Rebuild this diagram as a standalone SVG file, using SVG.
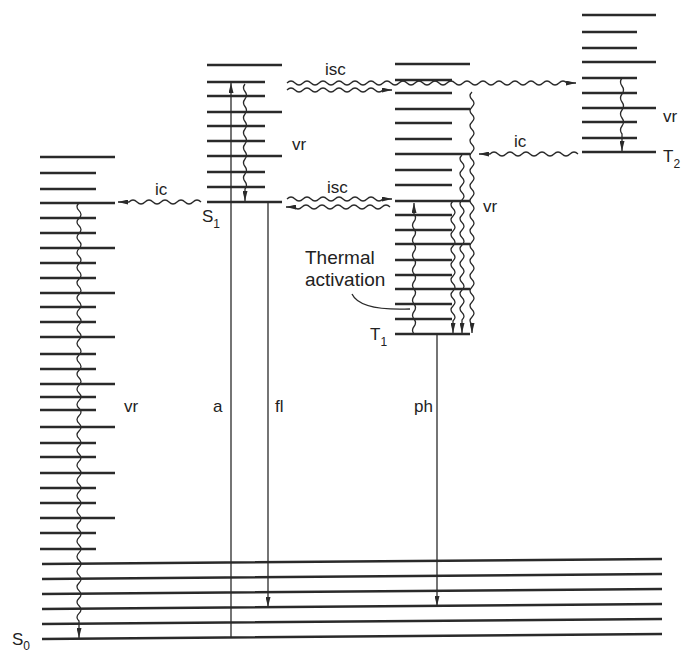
<svg xmlns="http://www.w3.org/2000/svg" width="682" height="654" viewBox="0 0 682 654">
<defs>
<style>
.lvl{stroke:#2a2a2a;stroke-width:2.4;fill:none}
.ar{stroke:#2a2a2a;stroke-width:1.3;fill:none;marker-end:url(#ah)}
.wv{stroke:#2a2a2a;stroke-width:1.3;fill:none}
.t{font-family:"Liberation Sans",Arial,Helvetica,sans-serif;font-size:17px;fill:#222}
.big{font-size:19px}
.sub{font-size:12px}
</style>
<marker id="ah" viewBox="0 0 10 5" refX="10" refY="2.5" markerWidth="10" markerHeight="5" markerUnits="userSpaceOnUse" orient="auto"><path d="M0,0 L10,2.5 L0,5 z" fill="#2a2a2a"/></marker>
</defs>
<rect width="682" height="654" fill="#fff"/>

<g id="S0">
<path class="lvl" d="M40,157H115M40,203H115M40,248H115M40,293H115M40,337H115M40,384H115M40,427H115M40,473H115M40,518H115
M40,173H96M40,189H96M40,218H96M40,233H96M40,263H96M40,278H96M40,307H96M40,322H96M40,354H96M40,369H96M40,397H96M40,410H96M40,443H96M40,457H96M40,488H96M40,503H96M40,533H96M40,549H96
M42,564L662,559M42,579L662,574M42,594L662,589M42,609L662,604M42,624L662,619M42,639L662,634"/>
<text class="t" x="12" y="645">S<tspan class="sub" dy="5">0</tspan></text>
</g>

<g id="S1">
<path class="lvl" d="M207,65H282M207,112H282M207,156H282M207,202H282M207,82H265M207,96H265M207,126H265M207,141H265M207,172H265M207,187H265"/>
<text class="t" x="202" y="222">S<tspan class="sub" dy="6">1</tspan></text>
</g>

<g id="T1">
<path class="lvl" d="M395,64H470M395,109H470M395,154H470M395,201H470M395,244H470M395,289H470M395,334H470
M395,80H452M395,93H452M395,123H452M395,139H452M395,170H452M395,185H452M395,215H452M395,230H452M395,260H452M395,275H452M395,304H452M395,319H452"/>
<text class="t" x="370" y="340">T<tspan class="sub" dy="6">1</tspan></text>
</g>

<g id="T2">
<path class="lvl" d="M582,15H656M582,62H656M582,108H656M582,152H656M582,32H637M582,48H637M582,78H637M582,93H637M582,122H637M582,138H637"/>
<text class="t" x="663" y="162">T<tspan class="sub" dy="6">2</tspan></text>
</g>

<g id="connectors">
<path class="ar" d="M231,638L231,83"/>
<path class="ar" d="M268,202L268,607"/>
<path class="ar" d="M437,334L437,606"/>
<path class="ar" d="M79,203q-4,3.8 0,7.6t0,7.6 t0,7.6 t0,7.6 t0,7.6 t0,7.6 t0,7.6 t0,7.6 t0,7.6 t0,7.6 t0,7.6 t0,7.6 t0,7.6 t0,7.6 t0,7.6 t0,7.6 t0,7.6 t0,7.6 t0,7.6 t0,7.6 t0,7.6 t0,7.6 t0,7.6 t0,7.6 t0,7.6 t0,7.6 t0,7.6 t0,7.6 t0,7.6 t0,7.6 t0,7.6 t0,7.6 t0,7.6 t0,7.6 t0,7.6 t0,7.6 t0,7.6 t0,7.6 t0,7.6 t0,7.6 t0,7.6 t0,7.6 t0,7.6 t0,7.6 t0,7.6 t0,7.6 t0,7.6 t0,7.6 t0,7.6 t0,7.6 t0,7.6 t0,7.6 t0,7.6 t0,7.6 t0,7.6 L79,638"/>
<path class="ar" d="M245,84q-3,3.75 0,7.5t0,7.5 t0,7.5 t0,7.5 t0,7.5 t0,7.5 t0,7.5 t0,7.5 t0,7.5 t0,7.5 t0,7.5 t0,7.5 t0,7.5 t0,7.5 L245,201"/>
<path class="ar" d="M622,78q-3,4 0,8t0,8 t0,8 t0,8 t0,8 t0,8 t0,8 L622,151"/>
<path class="ar" d="M472,92q-4,3.75 0,7.5t0,7.5 t0,7.5 t0,7.5 t0,7.5 t0,7.5 t0,7.5 t0,7.5 t0,7.5 t0,7.5 t0,7.5 t0,7.5 t0,7.5 t0,7.5 t0,7.5 t0,7.5 t0,7.5 t0,7.5 t0,7.5 t0,7.5 t0,7.5 t0,7.5 t0,7.5 t0,7.5 t0,7.5 t0,7.5 t0,7.5 t0,7.5 t0,7.5 t0,7.5 t0,7.5 L472,333"/>
<path class="ar" d="M462,155q-4,3.75 0,7.5t0,7.5 t0,7.5 t0,7.5 t0,7.5 t0,7.5 t0,7.5 t0,7.5 t0,7.5 t0,7.5 t0,7.5 t0,7.5 t0,7.5 t0,7.5 t0,7.5 t0,7.5 t0,7.5 t0,7.5 t0,7.5 t0,7.5 t0,7.5 t0,7.5 L462,333"/>
<path class="ar" d="M453,201q-4,3.75 0,7.5t0,7.5 t0,7.5 t0,7.5 t0,7.5 t0,7.5 t0,7.5 t0,7.5 t0,7.5 t0,7.5 t0,7.5 t0,7.5 t0,7.5 t0,7.5 t0,7.5 t0,7.5 L453,333"/>
<path class="ar" d="M414,334q-3,-3.75 0,-7.5t0,-7.5 t0,-7.5 t0,-7.5 t0,-7.5 t0,-7.5 t0,-7.5 t0,-7.5 t0,-7.5 t0,-7.5 t0,-7.5 t0,-7.5 t0,-7.5 t0,-7.5 t0,-7.5 t0,-7.5 L414,203"/>
<path class="wv" d="M352,294Q360,311 410,309"/>
<path class="ar" d="M287,83q4,-4 8,0t8,0 t8,0 t8,0 t8,0 t8,0 t8,0 t8,0 t8,0 t8,0 t8,0 t8,0 t8,0 t8,0 t8,0 t8,0 t8,0 t8,0 t8,0 t8,0 t8,0 t8,0 t8,0 t8,0 t8,0 t8,0 t8,0 t8,0 t8,0 t8,0 t8,0 t8,0 t8,0 t8,0 t8,0 L576,83"/>
<path class="ar" d="M287,90q4,-4 8,0t8,0 t8,0 t8,0 t8,0 t8,0 t8,0 t8,0 t8,0 t8,0 t8,0 t8,0 L392,90"/>
<path class="ar" d="M287,199q4,-4 8,0t8,0 t8,0 t8,0 t8,0 t8,0 t8,0 t8,0 t8,0 t8,0 t8,0 t8,0 L392,199"/>
<path class="ar" d="M390,207q-4,-4 -8,0t-8,0 t-8,0 t-8,0 t-8,0 t-8,0 t-8,0 t-8,0 t-8,0 t-8,0 t-8,0 t-8,0 L286,207"/>
<path class="ar" d="M201,202q-4,-4 -8,0t-8,0 t-8,0 t-8,0 t-8,0 t-8,0 t-8,0 t-8,0 t-8,0 L118,202"/>
<path class="ar" d="M578,154q-4,-4 -8,0t-8,0 t-8,0 t-8,0 t-8,0 t-8,0 t-8,0 t-8,0 t-8,0 t-8,0 t-8,0 L479,154"/>
</g>

<g id="labels">
<text class="t" x="325" y="75">isc</text>
<text class="t" x="327" y="193">isc</text>
<text class="t" x="292" y="150">vr</text>
<text class="t" x="155" y="195">ic</text>
<text class="t" x="124" y="412">vr</text>
<text class="t" x="213" y="412">a</text>
<text class="t" x="275" y="412">fl</text>
<text class="t" x="414" y="412">ph</text>
<text class="t big" x="305" y="264">Thermal</text>
<text class="t big" x="305" y="286">activation</text>
<text class="t" x="483" y="212">vr</text>
<text class="t" x="514" y="147">ic</text>
<text class="t" x="663" y="122">vr</text>
</g>
</svg>
